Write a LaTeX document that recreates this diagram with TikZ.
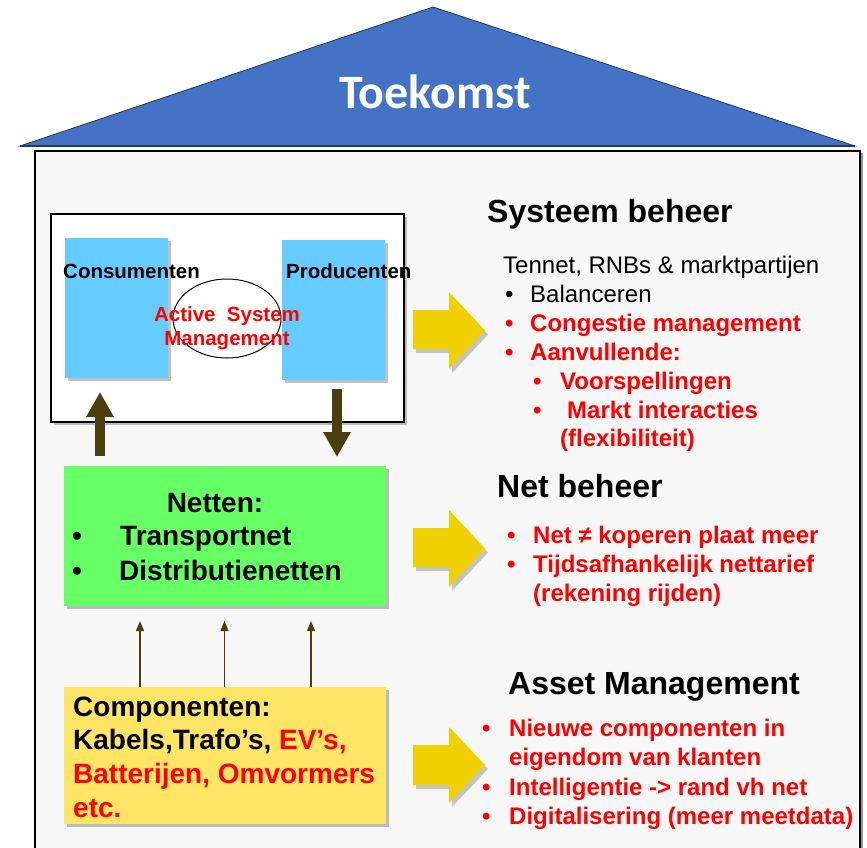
\documentclass[tikz,border=0pt]{standalone}
\usepackage{fontspec}
\setmainfont{Liberation Sans}
\newfontfamily\calfont{Carlito}
\usetikzlibrary{arrows.meta,shadows,shapes.geometric}
\definecolor{roofblue}{HTML}{4472C4}
\definecolor{roofedge}{HTML}{1F3864}
\definecolor{panel}{HTML}{F7F7F7}
\definecolor{skyb}{HTML}{66CCFF}
\definecolor{grn}{HTML}{66FF66}
\definecolor{ylw}{HTML}{FFE566}
\definecolor{gold}{HTML}{F0D000}
\definecolor{olive}{RGB}{74,62,12}
\definecolor{rd}{HTML}{FF0000}
\begin{document}
\begin{tikzpicture}[x=1pt,y=-1pt,
  shd/.style={drop shadow={shadow xshift=3pt,shadow yshift=-3pt,opacity=0.35,fill=black!70}},
  boxbase/.style={inner sep=0pt,outer sep=0pt},
  hd/.style={anchor=base west,inner sep=0pt,font=\bfseries\fontsize{32}{38}\selectfont},
  bd/.style={anchor=base west,inner sep=0pt,font=\fontsize{24}{29}\selectfont},
  rb/.style={anchor=base west,inner sep=0pt,text=rd,font=\bfseries\fontsize{24}{29}\selectfont},
  bx/.style={anchor=base west,inner sep=0pt,font=\bfseries\fontsize{28}{33}\selectfont},
  lbl/.style={anchor=base west,inner sep=0pt,font=\bfseries\fontsize{20.5}{24}\selectfont},
  thickarr/.style={draw=olive,line width=10pt,-{Triangle[width=26pt,length=25pt]}},
  thinarr/.style={draw=olive,line width=1.3pt,-{Triangle[width=8pt,length=10pt]}},
  yarrow/.style={fill=gold,drop shadow={shadow xshift=3pt,shadow yshift=-4pt,opacity=0.3,fill=black!70}}
]
\useasboundingbox (0,0) rectangle (867,847);
\clip (0,0) rectangle (867,847);

% roof
\filldraw[fill=roofblue,draw=roofedge,line width=0.8pt] (433,7) -- (855,146) -- (20,146) -- cycle;
\draw[roofedge,line width=2.5pt] (20,146) -- (855,146);
\node[anchor=base,inner sep=0pt,text=white,font=\calfont\bfseries\fontsize{48}{52}\selectfont] (toek) at (435,108) {Toekomst};

% main panel
\node[boxbase,draw=black,line width=1.5pt,fill=panel,minimum width=825pt,minimum height=720pt,
  drop shadow={shadow xshift=3pt,shadow yshift=-2pt,opacity=0.5,fill=black!80}] (panel) at (447.5,511) {};

% white system box
\node[boxbase,draw=black,line width=1.4pt,fill=white,minimum width=353pt,minimum height=208pt,shd] (sys) at (227.5,318) {};
\node[boxbase,fill=skyb,minimum width=103pt,minimum height=140pt,shd] (cons) at (116.5,308) {};
\node[boxbase,fill=skyb,minimum width=103pt,minimum height=140pt,shd] (prod) at (333.5,310) {};
\node[ellipse,draw=black,line width=1pt,fill=white,minimum width=108pt,minimum height=79pt,inner sep=0pt] (asm) at (227,318.5) {};
\node[lbl] (consl) at (63,278) {Consumenten};
\node[lbl] (prodl) at (286,278) {Producenten};
\node[anchor=base,inner sep=0pt,text=rd,font=\bfseries\fontsize{20.5}{24}\selectfont] (asm1) at (227,321) {Active\ \ System};
\node[anchor=base,inner sep=0pt,text=rd,font=\bfseries\fontsize{20.5}{24}\selectfont] (asm2) at (227,345) {Management};

% green box
\node[boxbase,fill=grn,minimum width=322pt,minimum height=140pt,shd] (net) at (225,536) {};
\node[bx,anchor=base] (net0) at (215,512) {Netten:};
\node[bx] (nb1) at (72,545) {•};
\node[bx] (net1) at (120,545) {Transportnet};
\node[bx] (nb2) at (72,580) {•};
\node[bx] (net2) at (119,580) {Distributienetten};

% yellow box
\node[boxbase,fill=ylw,minimum width=322pt,minimum height=137pt,shd] (comp) at (225,755.5) {};
\node[bx] (c1) at (73,716) {Componenten:};
\node[bx] (c2) at (73,749) {Kabels,Trafo’s, \textcolor{rd}{EV’s,}};
\node[bx,text=rd] (c3) at (73,783) {Batterijen, Omvormers};
\node[bx,text=rd] (c4) at (73,817) {etc.};

% thick arrows
\coordinate (ua) at (100,456);
\coordinate (ub) at (100,392);
\draw[thickarr] (ua) -- (ub);
\coordinate (da) at (337,389);
\coordinate (db) at (337,457);
\draw[thickarr] (da) -- (db);

% thin arrows
\coordinate (t1) at (140,621);
\coordinate (t2) at (224.5,621);
\coordinate (t3) at (311,621);
\draw[thinarr] (comp.north -| t1) -- (t1);
\draw[thinarr] (comp.north -| t2) -- (t2);
\draw[thinarr] (comp.north -| t3) -- (t3);

% yellow block arrows
\fill[yarrow] (413,310) -- (449,310) -- (449,292) -- (485,330.5) -- (449,369) -- (449,349) -- (413,349) -- cycle;
\fill[yarrow] (413,528) -- (449,528) -- (449,510) -- (485,548.5) -- (449,587) -- (449,567) -- (413,567) -- cycle;
\fill[yarrow] (413,745) -- (449,745) -- (449,727) -- (485,765) -- (449,803) -- (449,785) -- (413,785) -- cycle;

% Systeem beheer
\node[hd] (h1) at (487,222) {Systeem beheer};
\node[bd] (s0) at (503,273) {Tennet, RNBs \& marktpartijen};
\node[bd] (sb1) at (505,302) {•};
\node[bd] (s1) at (530,302) {Balanceren};
\node[rb] (sb2) at (505,331) {•};
\node[rb] (s2) at (530,331) {Congestie management};
\node[rb] (sb3) at (505,360) {•};
\node[rb] (s3) at (530,360) {Aanvullende:};
\node[rb] (sb4) at (533,389) {•};
\node[rb] (s4) at (560,389) {Voorspellingen};
\node[rb] (sb5) at (533,418) {•};
\node[rb] (s5) at (567,418) {Markt interacties};
\node[rb] (s6) at (560,446) {(flexibiliteit)};

% Net beheer
\node[hd] (h2) at (497,497) {Net beheer};
\node[rb] (nbb1) at (507,543) {•};
\node[rb] (n1) at (533,543) {Net ≠ koperen plaat meer};
\node[rb] (nbb2) at (507,572) {•};
\node[rb] (n2) at (533,572) {Tijdsafhankelijk nettarief};
\node[rb] (n3) at (533,601) {(rekening rijden)};

% Asset Management
\node[hd] (h3) at (508,694) {Asset Management};
\node[rb] (ab1) at (482,736) {•};
\node[rb] (a1) at (509,736) {Nieuwe componenten in};
\node[rb] (a2) at (509,765) {eigendom van klanten};
\node[rb] (ab2) at (482,795) {•};
\node[rb] (a3) at (509,795) {Intelligentie -> rand vh net};
\node[rb] (ab3) at (482,824) {•};
\node[rb] (a4) at (509,824) {Digitalisering (meer meetdata)};
\end{tikzpicture}
\end{document}
